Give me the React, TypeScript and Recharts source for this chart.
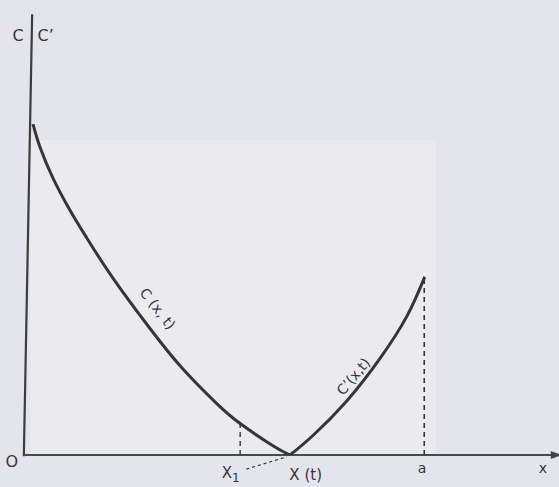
import React from 'react';
import {
  ComposedChart, Line, XAxis, YAxis, ReferenceLine, ReferenceDot, ReferenceArea,
} from 'recharts';

// C(x,t): falls from the C axis down to X(t)
const cX = [0.96, 2.3, 4.8, 8.1, 11.3, 16.3, 23.5, 29.8, 36.3, 40.8, 47.1, 50.4];
const cY = [74.7, 69.5, 62.5, 55.2, 49.0, 40.0, 28.5, 19.4, 11.6, 7.1, 2.1, 0];

// C'(x,t): rises from X(t) up to a
const cpX = [50.4, 54.8, 61.3, 67.7, 72.9, 76.3];
const cpY = [0, 4.4, 12.2, 21.8, 31.4, 40.2];

// marks on the x axis
const X1 = 40.8;
const X1_C = 7.1;
const XT = 50.4;
const A = 76.2;
const A_C = 40.2;

const cData = cX.map((x, i) => ({ x, y: cY[i] }));
const cpData = cpX.map((x, i) => ({ x, y: cpY[i] }));

const INK = '#363636';
const FONT = '"DejaVu Sans", "Noto Sans", sans-serif';

const textAt = (label: React.ReactNode, angle = 0, size = 14) => (props: any) => {
  const { cx, cy } = props;
  return (
    <text
      x={cx}
      y={cy}
      fill={INK}
      fontSize={size}
      fontFamily={FONT}
      textAnchor="middle"
      dominantBaseline="middle"
      transform={angle ? `rotate(${angle} ${cx} ${cy})` : undefined}
    >
      {label}
    </text>
  );
};

const arrowHead = (props: any) => {
  const { cx, cy } = props;
  return <path d={`M${cx + 6},${cy} L${cx - 5},${cy - 4} L${cx - 5},${cy + 4} Z`} fill="#444" />;
};

export default function App() {
  return (
    <div style={{ position: 'absolute', left: 0, top: 0, width: 559, height: 487, background: '#e4e4ec' }}>
      <ComposedChart width={559} height={487} margin={{ top: 12, right: 11, bottom: 32, left: 28 }}>
        <XAxis type="number" dataKey="x" domain={[0, 100]} hide allowDataOverflow />
        <YAxis type="number" dataKey="y" domain={[0, 100]} hide allowDataOverflow />

        <ReferenceArea x1={0.5} x2={78.5} y1={0} y2={71.1} fill="#ebebef" fillOpacity={1} stroke="none" ifOverflow="visible" />

        {/* axes */}
        <ReferenceLine segment={[{ x: -0.8, y: -0.3 }, { x: 0.8, y: 99.5 }]} stroke="#3c3c3c" strokeWidth={2.2} ifOverflow="visible" />
        <ReferenceLine segment={[{ x: -0.9, y: 0 }, { x: 101, y: 0 }]} stroke="#4a4a4a" strokeWidth={1.8} ifOverflow="visible" />
        <ReferenceDot x={101.5} y={0} r={4} shape={arrowHead} ifOverflow="visible" />

        {/* dashed guides */}
        <ReferenceLine segment={[{ x: X1, y: 0 }, { x: X1, y: X1_C }]} stroke={INK} strokeDasharray="5 4" strokeWidth={1.4} ifOverflow="visible" />
        <ReferenceLine segment={[{ x: A, y: 0 }, { x: A, y: A_C }]} stroke={INK} strokeDasharray="5 4" strokeWidth={1.6} ifOverflow="visible" />
        <ReferenceLine segment={[{ x: X1 + 1.2, y: -3.2 }, { x: XT - 0.6, y: -0.4 }]} stroke={INK} strokeDasharray="3 3" strokeWidth={1.2} ifOverflow="visible" />

        <Line data={cData} dataKey="y" type="natural" stroke={INK} strokeWidth={3} dot={false} isAnimationActive={false} />
        <Line data={cpData} dataKey="y" type="natural" stroke={INK} strokeWidth={3} dot={false} isAnimationActive={false} />

        {/* labels */}
        <ReferenceDot x={-1.9} y={94.4} r={1} shape={textAt('C', 0, 16)} ifOverflow="visible" />
        <ReferenceDot x={3.4} y={94.4} r={1} shape={textAt('C\u2019', 0, 16)} ifOverflow="visible" />
        <ReferenceDot x={-3.1} y={-1.8} r={1} shape={textAt('O', 0, 16)} ifOverflow="visible" />
        <ReferenceDot x={24.8} y={32.9} r={1} shape={textAt('C (x, t)', 52, 14)} ifOverflow="visible" />
        <ReferenceDot x={62.7} y={17.6} r={1} shape={textAt('C\u2019(x,t)', -50, 14)} ifOverflow="visible" />
        <ReferenceDot x={39.0} y={-4.2} r={1} shape={textAt(<>X<tspan fontSize={12} dy={4}>1</tspan></>, 0, 15)} ifOverflow="visible" />
        <ReferenceDot x={53.4} y={-4.6} r={1} shape={textAt('X (t)', 0, 15)} ifOverflow="visible" />
        <ReferenceDot x={75.8} y={-3.2} r={1} shape={textAt('a', 0, 14)} ifOverflow="visible" />
        <ReferenceDot x={99.0} y={-3.2} r={1} shape={textAt('x', 0, 14)} ifOverflow="visible" />
      </ComposedChart>
    </div>
  );
}
